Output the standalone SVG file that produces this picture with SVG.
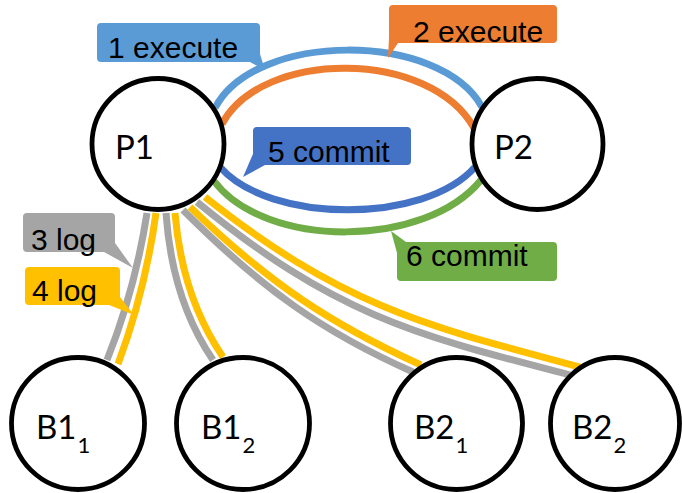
<svg xmlns="http://www.w3.org/2000/svg" width="682" height="493" viewBox="0 0 682 493">
  <style>
    .link { fill: none; stroke-width: 7; }
    .blue { stroke: #5B9BD5; }
    .orange { stroke: #ED7D31; }
    .navy { stroke: #4472C4; }
    .green { stroke: #70AD47; }
    .gray { stroke: #A5A5A5; }
    .gold { stroke: #FFC000; }
    .node { fill: #FFFFFF; stroke: #000000; stroke-width: 4.8; }
    .nlabel { font-family: Lato, "Open Sans", sans-serif; font-size: 33px; fill: #000000; }
    .sub { font-size: 22px; }
    .clabel { font-family: "Liberation Sans", Arial, sans-serif; font-size: 30px; fill: #000000; }
  </style>
  <rect width="682" height="493" fill="#FFFFFF"/>

  <!-- connectors, drawn under the nodes -->
  <g id="connectors">
    <path class="link blue" d="M215,108 C255,31 440,31 482,107"/>
    <path class="link orange" d="M222,124 C262,49 430,49 474,128"/>
    <path class="link navy" d="M220,167 C270,224 425,224 475,167"/>
    <path class="link green" d="M214,181 C265,249 425,249 481,180"/>

    <path class="link gray" d="M147,213 Q135,290 107,360"/>
    <path class="link gold" d="M156,213 Q145,292 118,364"/>

    <path class="link gray" d="M166,213 Q172,300 213,360"/>
    <path class="link gold" d="M175,213 Q182,297 223,357"/>

    <path class="link gray" d="M183,210 C263,290 323,332 413,372"/>
    <path class="link gold" d="M190,207 C270,284 331,324 421,365"/>

    <path class="link gray" d="M197,202 C337,317 420,336 570,375"/>
    <path class="link gold" d="M205,197 C345,308 430,327 580,367"/>
  </g>

  <!-- callout labels -->
  <g id="label-1-execute">
    <rect x="97" y="23" width="163" height="39" rx="4" fill="#5B9BD5"/>
    <polygon points="248,61 260,54 265,70" fill="#5B9BD5"/>
    <text class="clabel" x="108" y="58">1 execute</text>
  </g>
  <g id="label-2-execute">
    <rect x="389" y="5" width="168" height="38" rx="4" fill="#ED7D31"/>
    <polygon points="389,38 398,43 388,58" fill="#ED7D31"/>
    <text class="clabel" x="413" y="42">2 execute</text>
  </g>
  <g id="label-5-commit">
    <rect x="253" y="127" width="158" height="38" rx="4" fill="#4472C4"/>
    <polygon points="253,154 265,165 243,177" fill="#4472C4"/>
    <text class="clabel" x="268" y="162">5 commit</text>
  </g>
  <g id="label-6-commit">
    <rect x="397" y="242" width="160" height="39" rx="4" fill="#70AD47"/>
    <polygon points="391,231 397,253 406,242" fill="#70AD47"/>
    <text class="clabel" x="406" y="266">6 commit</text>
  </g>
  <g id="label-3-log">
    <rect x="23" y="213" width="92" height="39" rx="4" fill="#A5A5A5"/>
    <polygon points="104,252 115,243 133,268" fill="#A5A5A5"/>
    <text class="clabel" x="31" y="250">3 log</text>
  </g>
  <g id="label-4-log">
    <rect x="25" y="267" width="95" height="38" rx="4" fill="#FFC000"/>
    <polygon points="109,305 120,297 134,315" fill="#FFC000"/>
    <text class="clabel" x="32" y="301">4 log</text>
  </g>

  <!-- nodes -->
  <g id="P1">
    <ellipse class="node" cx="158" cy="144" rx="66" ry="65.5"/>
    <text class="nlabel" x="115" y="159">P1</text>
  </g>
  <g id="P2">
    <ellipse class="node" cx="537.5" cy="144" rx="65.5" ry="65.5"/>
    <text class="nlabel" x="494" y="159">P2</text>
  </g>
  <g id="B1_1">
    <ellipse class="node" cx="78" cy="423.5" rx="66.5" ry="66"/>
    <text class="nlabel" x="36" y="439">B1<tspan class="sub" dx="1" dy="14">1</tspan></text>
  </g>
  <g id="B1_2">
    <ellipse class="node" cx="243" cy="423.5" rx="66.5" ry="66"/>
    <text class="nlabel" x="201" y="439">B1<tspan class="sub" dx="1" dy="14">2</tspan></text>
  </g>
  <g id="B2_1">
    <ellipse class="node" cx="456.5" cy="423.5" rx="66" ry="66"/>
    <text class="nlabel" x="414" y="439">B2<tspan class="sub" dx="1" dy="14">1</tspan></text>
  </g>
  <g id="B2_2">
    <ellipse class="node" cx="615" cy="423.5" rx="64.5" ry="66"/>
    <text class="nlabel" x="572" y="439">B2<tspan class="sub" dx="1" dy="14">2</tspan></text>
  </g>
</svg>
